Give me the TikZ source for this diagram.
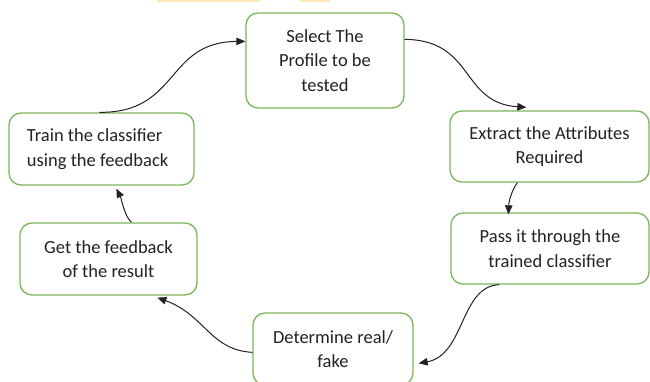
\documentclass[tikz,border=0pt]{standalone}
\usepackage{fontspec}
\setmainfont{Carlito}
\usetikzlibrary{arrows.meta,calc}
\definecolor{boxgreen}{HTML}{7DB65A}
\definecolor{inkgray}{HTML}{222222}
\definecolor{markyellow}{HTML}{FDE7B5}
\begin{document}
\begin{tikzpicture}[x=1pt,y=-1pt,
  box/.style={draw=boxgreen,line width=1.3pt,rounded corners=12pt,fill=white,
    align=center,text=inkgray,inner sep=0pt,
    font=\fontsize{18.5}{24.5}\selectfont},
  flow/.style={draw=inkgray,line width=1pt,
    -{Triangle[length=9pt,width=7.5pt]}}]
\useasboundingbox (0,0) rectangle (650,382);
\clip (0,0) rectangle (650,382);

% pale highlight strips along the top edge
\fill[markyellow] (157,0) rectangle (260,1.8);
\fill[markyellow] (300,0) rectangle (330,1.8);

% process steps
\node[box,minimum width=158pt,minimum height=95pt] (sel) at (325,60.5)
  {Select The\\Profile to be\\tested};
\node[box,minimum width=199pt,minimum height=71pt] (ext) at (549.5,146.5)
  {Extract the Attributes\\Required};
\node[box,minimum width=198pt,minimum height=71pt] (pass) at (550,248.5)
  {Pass it through the\\trained classifier};
\node[box,minimum width=160pt,minimum height=72pt] (det) at (333,349)
  {Determine real/\\fake};
\node[box,minimum width=177pt,minimum height=72pt] (get) at (108.5,259)
  {Get the feedback\\of the result};
\node[box,minimum height=72pt,text width=149pt,inner xsep=18pt,
  align=flush left] (train) at (101.5,149)
  {Train the classifier\\using the feedback};

% cycle connectors
\draw[flow] ($(sel.north east)+(0,27)$)
  .. controls (475,40) and (460,103) .. ($(ext.north west)+(77,-3)$);
\draw[flow] ($(ext.south west)+(68,0)$)
  .. controls (512,190) and (509,200) .. ($(pass.north west)+(58,2)$);
\draw[flow] ($(pass.south west)+(49,0)$)
  .. controls (460,286) and (465,355) .. ($(det.north east)+(5,51)$);
\draw[flow] ($(det.north west)+(0,40)$)
  .. controls (210,350) and (205,315) .. ($(get.south west)+(138,2)$);
\draw[flow] ($(get.north west)+(112,0)$)
  .. controls (124,215) and (122,200) .. ($(train.south west)+(108,3)$);
\draw[flow] ($(train.north west)+(91,0)$)
  .. controls (180,113) and (165,42) .. ($(sel.north west)+(0,29)$);
\end{tikzpicture}
\end{document}
